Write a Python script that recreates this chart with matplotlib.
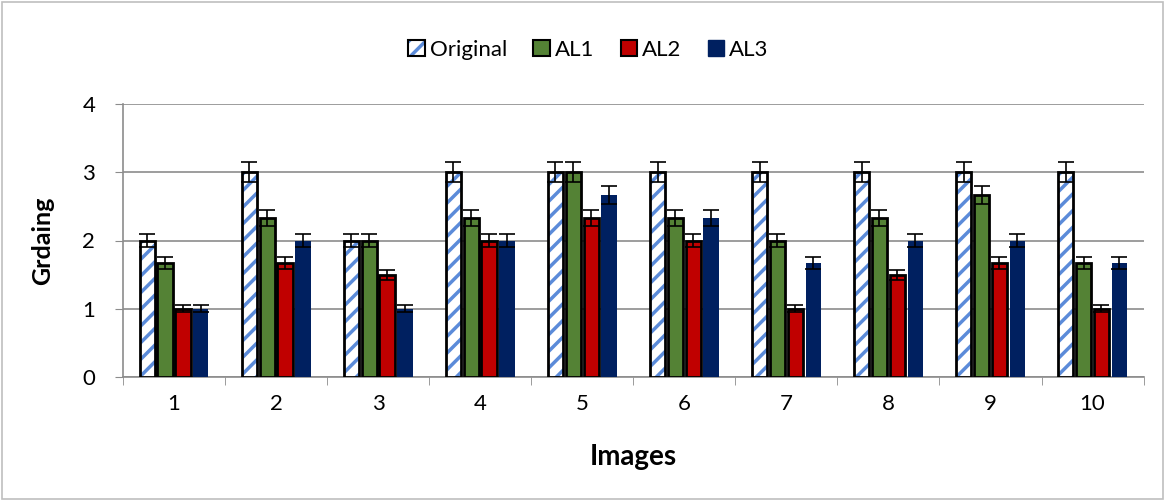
import matplotlib.pyplot as plt
import numpy as np
from matplotlib.patches import Patch, Rectangle
from matplotlib.legend_handler import HandlerTuple

plt.rcParams['font.family'] = ['Lato', 'DejaVu Sans']
plt.rcParams['hatch.linewidth'] = 2.5

images = ['1', '2', '3', '4', '5', '6', '7', '8', '9', '10']
original = [2, 3, 2, 3, 3, 3, 3, 3, 3, 3]
al1 = [1.67, 2.33, 2, 2.33, 3, 2.33, 2, 2.33, 2.67, 1.67]
al2 = [1, 1.67, 1.5, 2, 2.33, 2, 1, 1.5, 1.67, 1]
al3 = [1, 2, 1, 2, 2.67, 2.33, 1.67, 2, 2, 1.67]
err_frac = 0.05  # error bars are 5% of the value

fig = plt.figure(figsize=(11.65, 5), dpi=100)
ax = fig.add_axes([0.1056, 0.246, 0.876, 0.546])

x = np.arange(len(images))
w = 0.15
step = 0.175
offs = [-1.5 * step, -0.5 * step, 0.5 * step, 1.5 * step]
green = '#548235'
red = '#C00000'
navy = '#002060'
blue = '#5B8BD9'

def yerr(v):
    return [val * err_frac for val in v]

ebkw = dict(ecolor='black', elinewidth=1.2, capsize=6, capthick=1.2)

# original: hatched white bar + black outline
ax.bar(x + offs[0], original, w, color='white', edgecolor=blue, hatch='//', linewidth=0, zorder=3)
ax.bar(x + offs[0], original, w, fill=False, edgecolor='black', linewidth=2, zorder=4,
       yerr=yerr(original), error_kw=ebkw)
ax.bar(x + offs[1], al1, w, color=green, edgecolor='black', linewidth=2, zorder=3,
       yerr=yerr(al1), error_kw=ebkw)
ax.bar(x + offs[2], al2, w, color=red, edgecolor='black', linewidth=2, zorder=3,
       yerr=yerr(al2), error_kw=ebkw)
ax.bar(x + offs[3], al3, w, color=navy, linewidth=0, zorder=3,
       yerr=yerr(al3), error_kw=ebkw)

ax.set_xlim(-0.5, len(images) - 0.5)
ax.set_ylim(0, 4)
ax.set_yticks([0, 1, 2, 3, 4])
ax.yaxis.grid(True, color='#8c8c8c', linewidth=1.2, zorder=0)
ax.set_axisbelow(True)
ax.set_xticks(x)
ax.set_xticklabels(images)
ax.set_xticks(np.arange(-0.5, len(images)), minor=True)
ax.tick_params(axis='x', which='major', length=0, labelsize=16, pad=12)
ax.tick_params(axis='x', which='minor', length=6, color='#8c8c8c')
ax.tick_params(axis='y', length=6, color='#8c8c8c', labelsize=16, pad=14)
for s in ['top', 'right']:
    ax.spines[s].set_visible(False)
for s in ['left', 'bottom']:
    ax.spines[s].set_color('#8c8c8c')
    ax.spines[s].set_linewidth(1.2)

ax.set_ylabel('Grdaing', fontsize=18, fontweight='bold', labelpad=20)
ax.set_xlabel('Images', fontsize=20, fontweight='bold', labelpad=22)

orig_handle = (Patch(facecolor='white', edgecolor=blue, hatch='//', linewidth=0),
               Patch(fill=False, edgecolor='black', linewidth=1.5))
handles = [orig_handle,
           Patch(facecolor=green, edgecolor='black', linewidth=1.5),
           Patch(facecolor=red, edgecolor='black', linewidth=1.5),
           Patch(facecolor=navy, edgecolor=navy)]
leg = fig.legend(handles, ['Original', 'AL1', 'AL2', 'AL3'], loc='center', ncol=4,
                 bbox_to_anchor=(0.505, 0.9), frameon=False, fontsize=16,
                 handlelength=0.75, handleheight=0.75, handletextpad=0.2, columnspacing=1.2,
                 handler_map={tuple: HandlerTuple(ndivide=1, pad=0)})

fig.patches.append(Rectangle((0.002, 0.003), 0.996, 0.994, transform=fig.transFigure,
                             fill=False, edgecolor='#bfbfbf', linewidth=1.2))

fig.savefig('out.png', dpi=100)
